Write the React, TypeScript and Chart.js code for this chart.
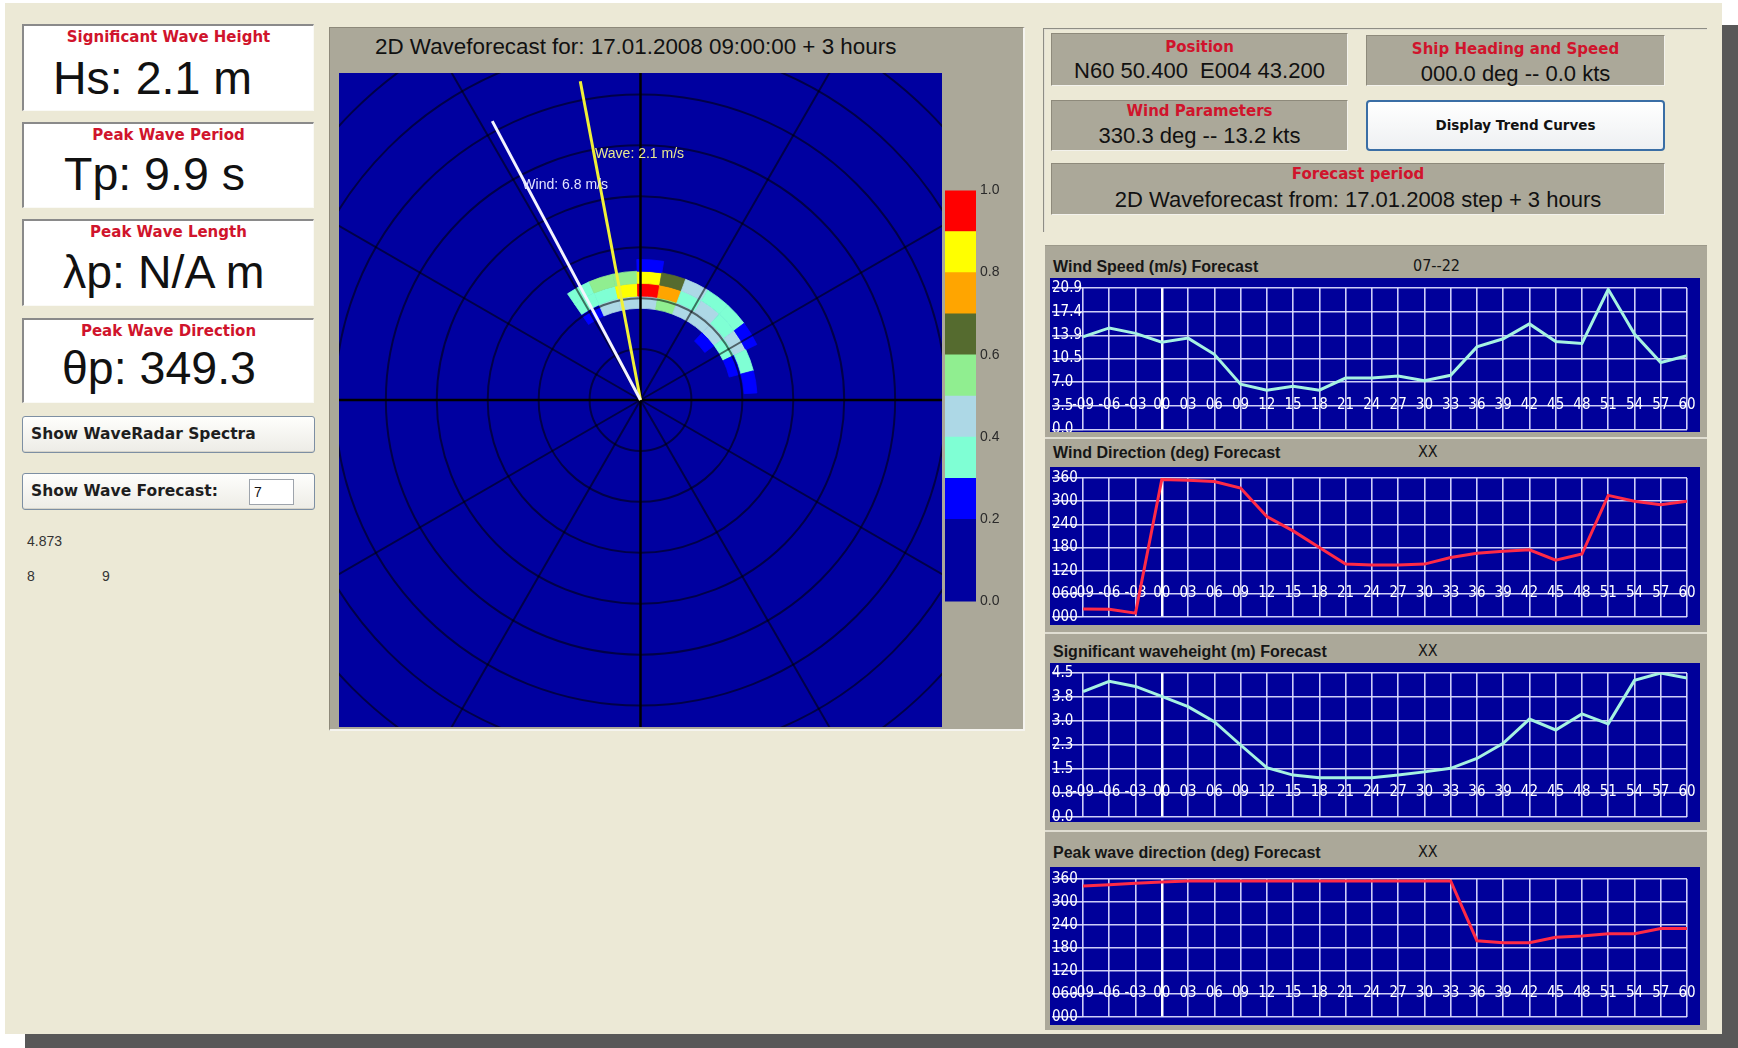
import React, { useEffect, useRef } from "react";
import { Chart, registerables } from "chart.js";

Chart.register(...registerables);

// ---------------- data ----------------
const forecastHours = [-9, -6, -3, 0, 3, 6, 9, 12, 15, 18, 21, 24, 27, 30, 33, 36, 39, 42, 45, 48, 51, 54, 57, 60];
const windSpeedMs = [13.7, 15.0, 14.2, 12.9, 13.5, 11.1, 6.7, 5.8, 6.4, 5.8, 7.6, 7.6, 7.9, 7.2, 8.0, 12.2, 13.4, 15.6, 13.0, 12.7, 20.7, 14.1, 9.9, 10.9];
const windDirectionDeg = [21, 20, 10, 356, 354, 351, 334, 260, 223, 180, 137, 135, 135, 137, 154, 165, 170, 174, 147, 163, 315, 300, 291, 300];
const sigWaveHeightM = [3.92, 4.24, 4.08, 3.77, 3.45, 2.98, 2.25, 1.54, 1.31, 1.23, 1.23, 1.23, 1.31, 1.41, 1.52, 1.83, 2.3, 3.06, 2.72, 3.22, 2.91, 4.27, 4.5, 4.34];
const peakWaveDirectionDeg = [342, 345, 349, 352, 355, 355, 355, 355, 355, 355, 355, 355, 355, 355, 355, 199, 194, 194, 208, 211, 217, 217, 231, 231];

const windSpeedTicks = [0, 3.5, 7.0, 10.5, 13.9, 17.4, 20.9];
const directionTicks = [0, 60, 120, 180, 240, 300, 360];
const waveHeightTicks = [0, 0.75, 1.5, 2.25, 3.0, 3.75, 4.5];

const colorbarLevels = [0, 0.2, 0.3, 0.4, 0.5, 0.6, 0.7, 0.8, 0.9, 1.0];
const colorbarColors = ["#0000A0", "#0000FF", "#7FFFD4", "#ADD8E6", "#90EE90", "#556B2F", "#FFA500", "#FFFF00", "#FF0000"];
const colorbarTicks = [0, 0.2, 0.4, 0.6, 0.8, 1.0];

// directional wave spectrum: direction bin centres (deg, compass), radial bin edges, normalised energy
const spectrumDirections = [-29, -18, -7, 4, 15, 26, 37, 48, 59, 70, 81];
const spectrumDirWidth = 11;
const spectrumRadiusEdges = [1.57, 1.8, 2.04, 2.29, 2.53, 2.76];
const spectrumEnergy = [
  [0, 0.25, 0.35, 0.35, 0],
  [0, 0.45, 0.35, 0.55, 0],
  [0, 0.45, 0.85, 0.55, 0],
  [0, 0.45, 0.95, 0.85, 0.25],
  [0, 0.55, 0.75, 0.65, 0],
  [0, 0.45, 0.35, 0.45, 0],
  [0, 0.45, 0.45, 0.35, 0],
  [0.25, 0.45, 0.35, 0.35, 0],
  [0, 0.35, 0.45, 0.25, 0],
  [0, 0.25, 0.35, 0, 0],
  [0, 0, 0.25, 0, 0],
];
const polarRings = [1, 2, 3, 4, 5, 6, 7, 8, 9];
const polarSpokes = [0, 30, 60, 90, 120, 150, 180, 210, 240, 270, 300, 330];

const windArrow = { direction: 332, length: 6.2, label: "Wind: 6.8 m/s" };
const waveArrow = { direction: 349.3, length: 6.37, label: "Wave: 2.1 m/s" };

// ---------------- styles ----------------
const FONT_SANS = "'Liberation Sans', Arial, Helvetica, sans-serif";
const FONT_NARROW = "'Liberation Sans Narrow', 'Arial Narrow', 'DejaVu Sans Condensed', 'Liberation Sans', sans-serif";
const FONT_UI = "'DejaVu Sans', Verdana, sans-serif";
const BEIGE = "#ECE9D6";
const GRAY = "#ABA899";
const RED_TITLE = "#D0142C";
const PLOT_NAVY = "#0000A0";
const CHART_NAVY = "#00009A";
const GRID = "rgba(222,222,255,0.92)";
const AQUA_LINE = "#A6F2E2";
const RED_LINE = "#FF2A46";

const fmtHour = (v: number) => (v < 0 ? "-" : "") + String(Math.abs(v)).padStart(2, "0");
const fmtDeg = (v: number) => String(Math.round(v)).padStart(3, "0");
const fmt1 = (v: number) => v.toFixed(1);

function energyColor(e: number): string | null {
  if (e < colorbarLevels[1]) return null;
  for (let i = 0; i < colorbarColors.length; i++) {
    if (e >= colorbarLevels[i] && e < colorbarLevels[i + 1]) return colorbarColors[i];
  }
  return colorbarColors[colorbarColors.length - 1];
}

function polarPoint(dirDeg: number, r: number) {
  const a = (dirDeg * Math.PI) / 180;
  return { x: r * Math.sin(a), y: r * Math.cos(a) };
}

const spectrumPlugin = {
  id: "waveSpectrum",
  beforeDatasetsDraw(chart: any) {
    const { ctx, chartArea: a, scales } = chart;
    const xs = scales.x;
    const ys = scales.y;
    const cx = xs.getPixelForValue(0);
    const cy = ys.getPixelForValue(0);
    const unit = xs.getPixelForValue(1) - cx;
    ctx.save();
    ctx.beginPath();
    ctx.rect(a.left, a.top, a.width, a.height);
    ctx.clip();
    ctx.fillStyle = PLOT_NAVY;
    ctx.fillRect(a.left, a.top, a.width, a.height);
    spectrumDirections.forEach((dir, i) => {
      spectrumEnergy[i].forEach((e, j) => {
        const col = energyColor(e);
        if (!col) return;
        const a1 = ((dir - spectrumDirWidth / 2 - 90) * Math.PI) / 180;
        const a2 = ((dir + spectrumDirWidth / 2 - 90) * Math.PI) / 180;
        const r1 = spectrumRadiusEdges[j] * unit;
        const r2 = spectrumRadiusEdges[j + 1] * unit;
        ctx.beginPath();
        ctx.arc(cx, cy, r2, a1, a2);
        ctx.arc(cx, cy, r1, a2, a1, true);
        ctx.closePath();
        ctx.fillStyle = col;
        ctx.fill();
        ctx.strokeStyle = col;
        ctx.lineWidth = 0.8;
        ctx.stroke();
      });
    });
    ctx.strokeStyle = "rgba(0,0,0,0.55)";
    ctx.lineWidth = 2;
    polarRings.forEach((r) => {
      ctx.beginPath();
      ctx.arc(cx, cy, r * unit, 0, Math.PI * 2);
      ctx.stroke();
    });
    const far = 14 * unit;
    polarSpokes.forEach((d) => {
      const ang = ((d - 90) * Math.PI) / 180;
      const main = d % 90 === 0;
      ctx.strokeStyle = main ? "#000000" : "rgba(0,0,0,0.55)";
      ctx.lineWidth = main ? 2.5 : 2;
      ctx.beginPath();
      ctx.moveTo(cx, cy);
      ctx.lineTo(cx + far * Math.cos(ang), cy + far * Math.sin(ang));
      ctx.stroke();
    });
    ctx.restore();
  },
  afterDatasetsDraw(chart: any) {
    const { ctx, scales } = chart;
    const items = [
      { arrow: waveArrow, color: "#E8E890", dx: 1 },
      { arrow: windArrow, color: "#E2E2FF", dx: -4 },
    ];
    ctx.save();
    ctx.font = `14px ${FONT_SANS}`;
    ctx.textAlign = "left";
    ctx.textBaseline = "middle";
    items.forEach((it) => {
      const p = polarPoint(it.arrow.direction, it.arrow.length * 0.77);
      ctx.fillStyle = it.color;
      ctx.fillText(it.arrow.label, scales.x.getPixelForValue(p.x) + it.dx, scales.y.getPixelForValue(p.y));
    });
    ctx.restore();
  },
};

function polarConfig(): any {
  return {
    type: "scatter",
    data: {
      datasets: [
        { data: [{ x: 0, y: 0 }, polarPoint(windArrow.direction, windArrow.length)], showLine: true, borderColor: "#F4F4FF", borderWidth: 3, pointRadius: 0 },
        { data: [{ x: 0, y: 0 }, polarPoint(waveArrow.direction, waveArrow.length)], showLine: true, borderColor: "#F0F038", borderWidth: 3, pointRadius: 0 },
      ],
    },
    options: {
      animation: false,
      responsive: false,
      events: [],
      layout: { padding: 0 },
      plugins: { legend: { display: false }, tooltip: { enabled: false } },
      scales: {
        x: { type: "linear", min: -5.92, max: 5.92, display: false },
        y: { type: "linear", min: -6.42, max: 6.42, display: false },
      },
    },
    plugins: [spectrumPlugin],
  };
}

function colorbarConfig(): any {
  return {
    type: "bar",
    data: {
      labels: [""],
      datasets: colorbarColors.map((c, i) => ({
        data: [colorbarLevels[i + 1] - colorbarLevels[i]],
        backgroundColor: c,
        borderWidth: 0,
        barPercentage: 1,
        categoryPercentage: 1,
      })),
    },
    options: {
      animation: false,
      responsive: false,
      events: [],
      layout: { padding: { top: 10, bottom: 10, left: 0, right: 0 } },
      plugins: { legend: { display: false }, tooltip: { enabled: false } },
      scales: {
        x: { stacked: true, display: false },
        y: {
          stacked: true,
          position: "right",
          min: 0,
          max: 1,
          afterBuildTicks: (s: any) => {
            s.ticks = colorbarTicks.map((v) => ({ value: v }));
          },
          afterFit: (s: any) => {
            s.width = 36;
          },
          grid: { display: false, drawTicks: false },
          border: { display: false },
          ticks: { color: "#2A2A2A", font: { family: FONT_SANS, size: 14 }, padding: 4, callback: (v: any) => Number(v).toFixed(1) },
        },
      },
    },
  };
}

type TrendSpec = {
  title: string;
  tag: string;
  values: number[];
  ticks: number[];
  fmt: (v: number) => string;
  color: string;
  panelTop: number;
  panelH: number;
  titleY: number;
  navyTop: number;
  navyH: number;
  padTop: number;
  padBottom: number;
};

function trendConfig(spec: TrendSpec): any {
  const font = { family: FONT_NARROW, size: 15 };
  return {
    type: "line",
    data: {
      datasets: [
        {
          data: forecastHours.map((h, i) => ({ x: h, y: spec.values[i] })),
          borderColor: spec.color,
          borderWidth: 3,
          pointRadius: 0,
          tension: 0,
          fill: false,
        },
      ],
    },
    options: {
      animation: false,
      responsive: false,
      events: [],
      layout: { padding: { left: 2, right: 13, top: spec.padTop, bottom: spec.padBottom } },
      plugins: { legend: { display: false }, tooltip: { enabled: false } },
      scales: {
        x: {
          type: "linear",
          min: forecastHours[0],
          max: forecastHours[forecastHours.length - 1],
          position: { y: spec.ticks[1] },
          afterBuildTicks: (s: any) => {
            s.ticks = forecastHours.map((v) => ({ value: v }));
          },
          afterFit: (s: any) => {
            s.height = 0;
            s.paddingLeft = 0;
            s.paddingRight = 0;
            s.paddingTop = 0;
            s.paddingBottom = 0;
          },
          grid: {
            drawTicks: false,
            color: (c: any) => (c.tick && c.tick.value === 0 ? "#FFFFFF" : GRID),
            lineWidth: (c: any) => (c.tick && c.tick.value === 0 ? 2.5 : 1.6),
          },
          border: { display: false },
          ticks: { color: "#FFFFFF", font, padding: -9.5, maxRotation: 0, minRotation: 0, autoSkip: false, callback: (v: any) => fmtHour(Number(v)) },
        },
        y: {
          type: "linear",
          min: 0,
          max: spec.ticks[spec.ticks.length - 1],
          afterBuildTicks: (s: any) => {
            s.ticks = spec.ticks.map((v) => ({ value: v }));
          },
          afterFit: (s: any) => {
            s.width = 31;
            s.paddingTop = 0;
            s.paddingBottom = 0;
          },
          grid: { color: GRID, lineWidth: 1.6, drawTicks: true, tickLength: 31 },
          border: { display: false },
          ticks: { color: "#FFFFFF", font, padding: 0, crossAlign: "far", autoSkip: false, callback: (v: any) => spec.fmt(Number(v)) },
        },
      },
    },
  };
}

const trendSpecs: TrendSpec[] = [
  { title: "Wind Speed (m/s) Forecast", tag: "07--22", values: windSpeedMs, ticks: windSpeedTicks, fmt: fmt1, color: AQUA_LINE, panelTop: 245, panelH: 192, titleY: 267, navyTop: 278, navyH: 154, padTop: 10, padBottom: 2.5 },
  { title: "Wind Direction (deg) Forecast", tag: "XX", values: windDirectionDeg, ticks: directionTicks, fmt: fmtDeg, color: RED_LINE, panelTop: 437, panelH: 195, titleY: 453, navyTop: 467, navyH: 158, padTop: 11, padBottom: 8 },
  { title: "Significant waveheight (m) Forecast", tag: "XX", values: sigWaveHeightM, ticks: waveHeightTicks, fmt: fmt1, color: AQUA_LINE, panelTop: 632, panelH: 198, titleY: 652, navyTop: 663, navyH: 159, padTop: 10, padBottom: 5 },
  { title: "Peak wave direction (deg) Forecast", tag: "XX", values: peakWaveDirectionDeg, ticks: directionTicks, fmt: fmtDeg, color: RED_LINE, panelTop: 830, panelH: 200, titleY: 853, navyTop: 867, navyH: 158, padTop: 12, padBottom: 8 },
];

function ChartCanvas(props: { left: number; top: number; width: number; height: number; make: () => any; bg?: string }) {
  const ref = useRef<HTMLCanvasElement>(null);
  useEffect(() => {
    const chart = new Chart(ref.current as HTMLCanvasElement, props.make());
    return () => chart.destroy();
  }, []);
  return (
    <canvas
      ref={ref}
      width={props.width}
      height={props.height}
      style={{ position: "absolute", left: props.left, top: props.top, width: props.width, height: props.height, background: props.bg || "transparent" }}
    />
  );
}

const abs = (left: number, top: number, width: number, height: number, extra: any = {}): any => ({
  position: "absolute",
  left,
  top,
  width,
  height,
  boxSizing: "border-box",
  ...extra,
});

const leftCards = [
  { title: "Significant Wave Height", value: "Hs: 2.1 m", top: 24, h: 87, vTop: 26, vLeft: 29 },
  { title: "Peak Wave Period", value: "Tp: 9.9 s", top: 122, h: 86, vTop: 24, vLeft: 40 },
  { title: "Peak Wave Length", value: "λp: N/A m", top: 219, h: 87, vTop: 25, vLeft: 39 },
  { title: "Peak Wave Direction", value: "θp: 349.3", top: 318, h: 85, vTop: 22, vLeft: 38 },
];

const infoBoxes = [
  { title: "Position", value: "N60 50.400  E004 43.200", left: 1051, top: 33, w: 297, h: 53, tC: 14, vC: 38 },
  { title: "Ship Heading and Speed", value: "000.0 deg -- 0.0 kts", left: 1366, top: 35, w: 299, h: 51, tC: 14, vC: 39 },
  { title: "Wind Parameters", value: "330.3 deg -- 13.2 kts", left: 1051, top: 100, w: 297, h: 51, tC: 11, vC: 36 },
  { title: "Forecast period", value: "2D Waveforecast from: 17.01.2008 step + 3 hours", left: 1051, top: 163, w: 614, h: 52, tC: 11, vC: 37 },
];

export default function App() {
  const redTitle: any = { position: "absolute", left: 0, right: 0, textAlign: "center", fontFamily: FONT_UI, fontWeight: "bold", fontSize: 15, lineHeight: "18px", color: RED_TITLE, whiteSpace: "nowrap" };
  const buttonStyle = (top: number): any =>
    abs(22, top, 293, 37, { border: "1px solid #7D8FA3", borderRadius: 3, background: "linear-gradient(#FEFEFC, #EDECE6)", boxShadow: "inset 0 -1px 0 #D6D4CA" });
  const buttonText: any = { position: "absolute", left: 8, top: 0, lineHeight: "35px", fontFamily: FONT_UI, fontWeight: "bold", fontSize: 15.5, color: "#1E1E1E", whiteSpace: "nowrap" };

  return (
    <div style={{ position: "fixed", left: 0, top: 0, width: 1738, height: 1048, background: "#FFFFFF", overflow: "hidden", fontFamily: FONT_SANS }}>
      {/* shadow + window */}
      <div style={abs(1722, 25, 16, 1023, { background: "#585858" })} />
      <div style={abs(25, 1034, 1713, 14, { background: "#585858" })} />
      <div style={abs(5, 3, 1717, 1031, { background: BEIGE })} />

      {/* left column */}
      {leftCards.map((c) => (
        <div
          key={c.title}
          style={abs(22, c.top, 292, c.h, { background: "#FFFFFF", borderTop: "2px solid #8A8A8A", borderLeft: "2px solid #8A8A8A", borderRight: "1px solid #FAFAF6", borderBottom: "1px solid #FAFAF6" })}
        >
          <div style={{ ...redTitle, top: 2 }}>{c.title}</div>
          <div style={{ position: "absolute", left: c.vLeft, top: c.vTop, lineHeight: "52px", fontSize: 46.5, color: "#111", whiteSpace: "nowrap" }}>{c.value}</div>
        </div>
      ))}
      <div style={buttonStyle(416)}>
        <div style={buttonText}>Show WaveRadar Spectra</div>
      </div>
      <div style={buttonStyle(473)}>
        <div style={buttonText}>Show Wave Forecast:</div>
      </div>
      <div style={abs(249, 479, 45, 26, { background: "#FFFFFF", border: "1px solid #9EA4AC", fontSize: 14, lineHeight: "24px", paddingLeft: 4, color: "#111" })}>7</div>
      <div style={{ position: "absolute", left: 27, top: 532, fontSize: 14, lineHeight: "18px", color: "#333" }}>4.873</div>
      <div style={{ position: "absolute", left: 27, top: 567, fontSize: 14, lineHeight: "18px", color: "#333" }}>8</div>
      <div style={{ position: "absolute", left: 102, top: 567, fontSize: 14, lineHeight: "18px", color: "#333" }}>9</div>

      {/* radar panel */}
      <div style={abs(329, 27, 696, 704, { background: GRAY, borderTop: "1px solid #8D897A", borderLeft: "1px solid #8D897A", borderRight: "2px solid #F5F4EF", borderBottom: "2px solid #F5F4EF" })} />
      <div style={{ position: "absolute", left: 375, top: 34, lineHeight: "26px", fontSize: 22.4, color: "#111", whiteSpace: "nowrap" }}>
        2D Waveforecast for: 17.01.2008 09:00:00 + 3 hours
      </div>
      <ChartCanvas left={339} top={73} width={603} height={654} make={polarConfig} bg={PLOT_NAVY} />
      <ChartCanvas left={945} top={178} width={67} height={436} make={colorbarConfig} />

      {/* top-right info group */}
      <div style={abs(1043, 28, 664, 204, { borderTop: "2px groove #E2E0D4", borderLeft: "2px groove #E2E0D4" })} />
      {infoBoxes.map((b) => (
        <div
          key={b.title}
          style={abs(b.left, b.top, b.w, b.h, { background: GRAY, border: "1px solid", borderColor: "#8E8A7B #F3F2EC #F3F2EC #8E8A7B" })}
        >
          <div style={{ ...redTitle, top: b.tC - 10 }}>{b.title}</div>
          <div style={{ position: "absolute", left: 0, right: 0, top: b.vC - 14, textAlign: "center", lineHeight: "26px", fontSize: 22, color: "#111", whiteSpace: "pre" }}>{b.value}</div>
        </div>
      ))}
      <div style={abs(1366, 100, 299, 51, { border: "2px solid #3A6EA5", borderRadius: 4, background: "linear-gradient(#FFFFFF, #EEF0F2)" })}>
        <div style={{ position: "absolute", left: 0, right: 0, top: 0, textAlign: "center", lineHeight: "47px", fontFamily: FONT_UI, fontWeight: "bold", fontSize: 13.5, color: "#111" }}>
          Display Trend Curves
        </div>
      </div>

      {/* trend charts */}
      {trendSpecs.map((s, i) => (
        <React.Fragment key={s.title}>
          <div style={abs(1045, s.panelTop, 662, s.panelH, { background: GRAY, borderTop: i === 0 ? "1px solid #9C998A" : "2px solid #E0DED2" })} />
          <div style={{ position: "absolute", left: 1053, top: s.titleY - 10, lineHeight: "20px", fontWeight: "bold", fontSize: 16, color: "#161616", whiteSpace: "nowrap" }}>{s.title}</div>
          <div style={{ position: "absolute", left: i === 0 ? 1413 : 1418, top: s.titleY - 11, lineHeight: "20px", fontFamily: FONT_NARROW, fontSize: 16, color: "#161616", whiteSpace: "nowrap" }}>{s.tag}</div>
          <ChartCanvas left={1050} top={s.navyTop} width={650} height={s.navyH} make={() => trendConfig(s)} bg={CHART_NAVY} />
        </React.Fragment>
      ))}
    </div>
  );
}
